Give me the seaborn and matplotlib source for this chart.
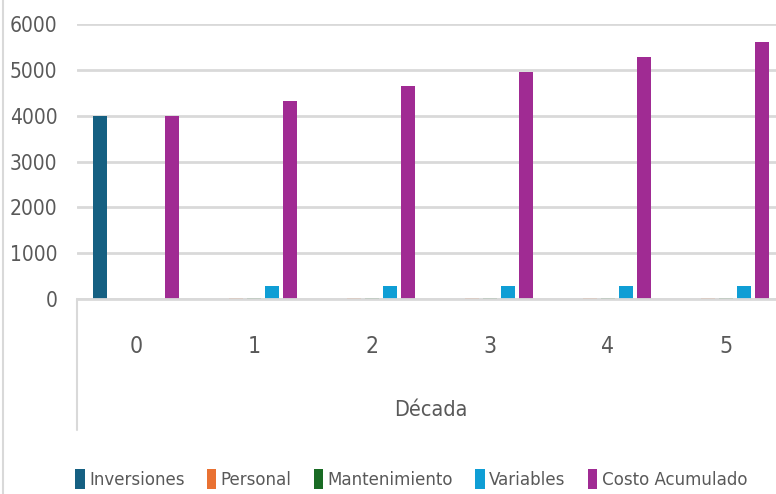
import matplotlib
matplotlib.use("Agg")
import matplotlib.pyplot as plt
from matplotlib import font_manager
from matplotlib.patches import Patch
from matplotlib.lines import Line2D
import pandas as pd
import seaborn as sns

# Chart data
decadas = ['0', '1', '2', '3', '4', '5']
series = ['Inversiones', 'Personal', 'Mantenimiento', 'Variables', 'Costo Acumulado']
inversiones = [4000, 0, 0, 0, 0, 0]
personal = [0, 20, 20, 20, 20, 20]
mantenimiento = [0, 20, 20, 20, 20, 20]
variables = [0, 280, 280, 280, 280, 280]
costo_acumulado = [4000, 4320, 4640, 4960, 5280, 5600]
colores = ['#156082', '#E97132', '#196B24', '#0F9ED5', '#A02B93']

valores = [inversiones, personal, mantenimiento, variables, costo_acumulado]
rows = []
for name, vals in zip(series, valores):
    for d, v in zip(decadas, vals):
        rows.append({'Década': d, 'serie': name, 'valor': v})
df = pd.DataFrame(rows)

sns.set_style('white')

# the reference uses a narrow Office font; use a condensed face if one is installed
narrow = None
for f in font_manager.fontManager.ttflist:
    low = (f.name + ' ' + f.fname).lower()
    if ('narrow' in low or 'condensed' in low) and 'bold' not in low and 'italic' not in low \
            and 'oblique' not in low and 'mono' not in low and 'serif' not in f.name.lower():
        narrow = f
        break

if narrow is not None:
    plt.rcParams['font.family'] = [narrow.name, 'DejaVu Sans']
    plt.rcParams['font.stretch'] = narrow.stretch
    sz_y, sz_x, sz_lab, sz_leg = 15, 16.5, 15.5, 13.3
else:
    plt.rcParams['font.family'] = ['Liberation Sans', 'DejaVu Sans']
    sz_y, sz_x, sz_lab, sz_leg = 14, 15, 14, 12
gris = '#595959'

fig = plt.figure(figsize=(7.76, 4.94), dpi=100)
ax = fig.add_axes([77 / 776, 195 / 494, 708 / 776, 275 / 494])

sns.barplot(data=df, x='Década', y='valor', hue='serie', order=decadas,
            hue_order=series, palette=colores, saturation=1, width=0.76, gap=0.25,
            linewidth=0, ax=ax, legend=False)

ax.set_ylim(0, 6000)
ax.set_xlim(-0.5, 5.5)
ax.set_yticks(range(0, 6001, 1000))
ax.yaxis.grid(True, color='#D9D9D9', linewidth=2)
ax.set_axisbelow(True)
for s in ['top', 'right', 'left']:
    ax.spines[s].set_visible(False)
ax.spines['bottom'].set_color('#D9D9D9')
ax.spines['bottom'].set_linewidth(2)

ax.tick_params(axis='y', length=0, pad=14, labelsize=sz_y, labelcolor=gris)
ax.tick_params(axis='x', length=0, pad=26, labelsize=sz_x, labelcolor=gris)
ax.set_ylabel('')
ax.set_xlabel('Década', fontsize=sz_lab, color=gris, labelpad=30)

# category axis box line and outer chart border
ax.add_line(Line2D([0, 0], [0, -131 / 275], transform=ax.transAxes,
                   color='#D9D9D9', linewidth=1.5, clip_on=False))
fig.add_artist(Line2D([3 / 776, 3 / 776], [0, 1], transform=fig.transFigure,
                      color='#D9D9D9', linewidth=1.5))

handles = [Patch(facecolor=c, edgecolor='none') for c in colores]
fig.legend(handles, series, loc='center', bbox_to_anchor=(0.530, 1 - 479 / 494),
           ncol=5, frameon=False, fontsize=sz_leg, labelcolor=gris,
           handlelength=0.5, handleheight=1.3, handletextpad=0.25,
           columnspacing=1.2)

fig.savefig('out.png', dpi=100)
